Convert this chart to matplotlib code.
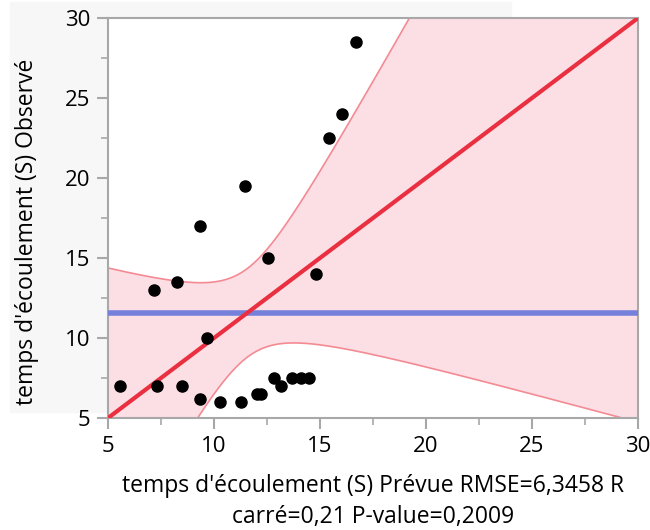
import numpy as np
import matplotlib.pyplot as plt
from matplotlib.patches import Rectangle
from matplotlib.ticker import MultipleLocator

plt.rcParams['font.family'] = ['Open Sans', 'DejaVu Sans']

predicted = [5.56, 7.18, 7.33, 8.27, 8.48, 9.34, 9.36, 9.67, 10.30, 11.25, 11.44, 12.05,
             12.23, 12.57, 12.85, 13.17, 13.66, 14.11, 14.47, 14.79, 15.41, 16.06, 16.70]
observed = [7.0, 13.0, 7.0, 13.5, 7.0, 17.0, 6.2, 10.0, 6.0, 6.0, 19.5, 6.5,
            6.5, 15.0, 7.5, 7.0, 7.5, 7.5, 7.5, 14.0, 22.5, 24.0, 28.5]

rmse = 6.3458
r2 = 0.21
n_params = 3
t_crit = 2.093   # t(0.975, 19)
f_crit = 3.127   # F(0.95, 3, 19)

n = len(observed)
ybar = np.mean(observed)
f_stat = (r2 / n_params) / ((1 - r2) / (n - n_params - 1))

fig = plt.figure(figsize=(6.5, 5.3), dpi=100)
fig.add_artist(Rectangle((10 / 650, 1 - 412 / 530), 501 / 650, 410 / 530,
                         transform=fig.transFigure, color='#f7f7f7', zorder=-5))
ax = fig.add_axes([108 / 650, 1 - 418 / 530, 530 / 650, 400 / 530])

xs = np.linspace(5, 30, 400)
half = np.sqrt(t_crit**2 * rmse**2 / n + (f_crit / f_stat) * (xs - ybar)**2)
upper = xs + half
lower = xs - half
ax.fill_between(xs, lower, upper, color='#fcdfe4', lw=0, zorder=1)
ax.plot(xs, upper, color='#f48a94', lw=1.2, zorder=2)
ax.plot(xs, lower, color='#f48a94', lw=1.2, zorder=2)

ax.axhline(ybar, color='#7580da', lw=4, zorder=3)
ax.plot([5, 30], [5, 30], color='#ea2f40', lw=3, zorder=4)
ax.plot(predicted, observed, 'o', color='black', ms=8, zorder=5)

ax.set_xlim(5, 30)
ax.set_ylim(5, 30)
ax.xaxis.set_major_locator(MultipleLocator(5))
ax.yaxis.set_major_locator(MultipleLocator(5))
ax.xaxis.set_minor_locator(MultipleLocator(2.5))
ax.yaxis.set_minor_locator(MultipleLocator(2.5))
for s in ax.spines.values():
    s.set_color('#a8a8a8')
    s.set_linewidth(1.5)
ax.tick_params(which='major', length=8, width=1.5, color='#a8a8a8', labelsize=16, pad=5)
ax.tick_params(which='minor', length=5, width=1.2, color='#a8a8a8')

ax.set_xlabel("temps d'écoulement (S) Prévue RMSE=6,3458 R\ncarré=0,21 P-value=0,2009",
              fontsize=16.5, linespacing=1.4, labelpad=12)
ax.set_ylabel("temps d'écoulement (S) Observé", fontsize=16.5)
ax.yaxis.set_label_coords(-0.13, 0.465)

fig.savefig('out.png', dpi=100)
